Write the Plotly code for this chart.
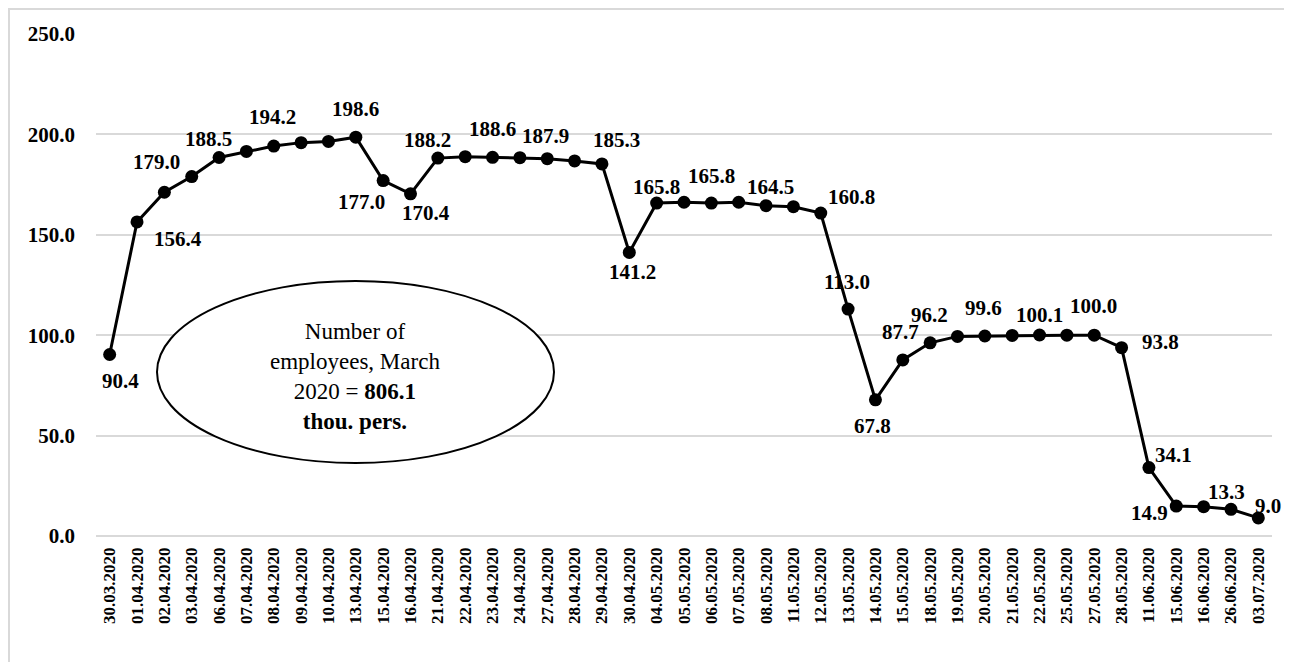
import plotly.graph_objects as go

dates = ["30.03.2020", "01.04.2020", "02.04.2020", "03.04.2020", "06.04.2020", "07.04.2020",
         "08.04.2020", "09.04.2020", "10.04.2020", "13.04.2020", "15.04.2020", "16.04.2020",
         "21.04.2020", "22.04.2020", "23.04.2020", "24.04.2020", "27.04.2020", "28.04.2020",
         "29.04.2020", "30.04.2020", "04.05.2020", "05.05.2020", "06.05.2020", "07.05.2020",
         "08.05.2020", "11.05.2020", "12.05.2020", "13.05.2020", "14.05.2020", "15.05.2020",
         "18.05.2020", "19.05.2020", "20.05.2020", "21.05.2020", "22.05.2020", "25.05.2020",
         "27.05.2020", "28.05.2020", "11.06.2020", "15.06.2020", "16.06.2020", "26.06.2020",
         "03.07.2020"]
values = [90.4, 156.4, 171.2, 179.0, 188.5, 191.5, 194.2, 195.9, 196.5, 198.6, 177.0, 170.4,
          188.2, 188.9, 188.6, 188.4, 187.9, 186.8, 185.3, 141.2, 165.8, 166.2, 165.8, 166.2,
          164.5, 164.0, 160.8, 113.0, 67.8, 87.7, 96.2, 99.4, 99.6, 99.9, 100.1, 100.0,
          100.0, 93.8, 34.1, 14.9, 14.6, 13.3, 9.0]

# which points carry a value label, and the pixel offset of each label
label_offsets = {
    0: (11, -27), 1: (41, -17), 3: (-35, 15), 4: (-11, 18), 6: (-1, 29), 9: (0, 28),
    10: (-22, -21), 11: (15, -19), 12: (-10, 18), 14: (0, 28), 16: (-2, 23), 18: (15, 24),
    19: (3, -20), 20: (0, 16), 22: (0, 27), 24: (4, 19), 26: (31, 16), 27: (-1, 27),
    28: (-3, -26), 29: (-2, 28), 30: (-1, 28), 32: (-1, 28), 34: (0, 20), 36: (-1, 29),
    37: (39, 6), 38: (25, 13), 39: (-27, -7), 41: (-4, 17), 42: (10, 12),
}

FONT = "Liberation Serif"
OFF = 8  # page body margin
W, H = 1292 - OFF, 662 - OFF
L, R, T, B = 96 - OFF, 20, 34 - OFF, 126
PW, PH = W - L - R, H - T - B

def px(x):
    # window pixel x -> paper
    return (x - OFF - L) / PW

def py(y):
    # window pixel y -> paper
    return (H - B - (y - OFF)) / PH

fig = go.Figure()
fig.add_trace(go.Scatter(
    x=dates, y=values, mode="lines+markers",
    line=dict(color="black", width=3),
    marker=dict(color="black", size=13),
    hoverinfo="x+y", showlegend=False, cliponaxis=False,
))

for i, (dx, dy) in label_offsets.items():
    fig.add_annotation(
        x=dates[i], y=values[i], text=f"{values[i]:.1f}", showarrow=False,
        xshift=dx, yshift=dy,
        font=dict(family=FONT, size=21, color="black", weight="bold"),
    )

# ellipse note
fig.add_shape(type="circle", xref="paper", yref="paper",
              x0=px(157), x1=px(554), y0=py(463), y1=py(281),
              line=dict(color="black", width=2), fillcolor="white", layer="above")
fig.add_annotation(
    xref="paper", yref="paper", x=px(355), y=py(376), xanchor="center", yanchor="middle",
    showarrow=False,
    text="Number of<br>employees, March<br>2020 = <b>806.1</b><br><b>thou. pers.</b>",
    align="center", font=dict(family=FONT, size=23, color="black"),
)

# outer chart frame
fig.add_shape(type="rect", xref="paper", yref="paper",
              x0=px(9), x1=px(1320), y0=py(700), y1=py(9),
              line=dict(color="#d9d9d9", width=2), fillcolor="rgba(0,0,0,0)", layer="below")

fig.update_layout(
    width=W, height=H,
    margin=dict(l=L, r=R, t=T, b=B, autoexpand=False),
    paper_bgcolor="white", plot_bgcolor="white",
    font=dict(family=FONT, color="black"),
    xaxis=dict(
        type="category", tickangle=-90, showgrid=False, showline=False, ticks="",
        tickfont=dict(family=FONT, size=17, color="black", weight="bold"),
        ticklabelstandoff=7, range=[-0.5, len(dates) - 0.5],
    ),
    yaxis=dict(
        range=[0, 250], tickvals=[0, 50, 100, 150, 200, 250],
        ticktext=["0.0", "50.0", "100.0", "150.0", "200.0", "250.0"],
        showgrid=True, gridcolor="#d9d9d9", gridwidth=2,
        zeroline=True, zerolinecolor="#d9d9d9", zerolinewidth=2,
        showline=False, ticks="",
        tickfont=dict(family=FONT, size=21, color="black", weight="bold"),
        ticklabelstandoff=20,
    ),
)

fig.write_html("out.html")
